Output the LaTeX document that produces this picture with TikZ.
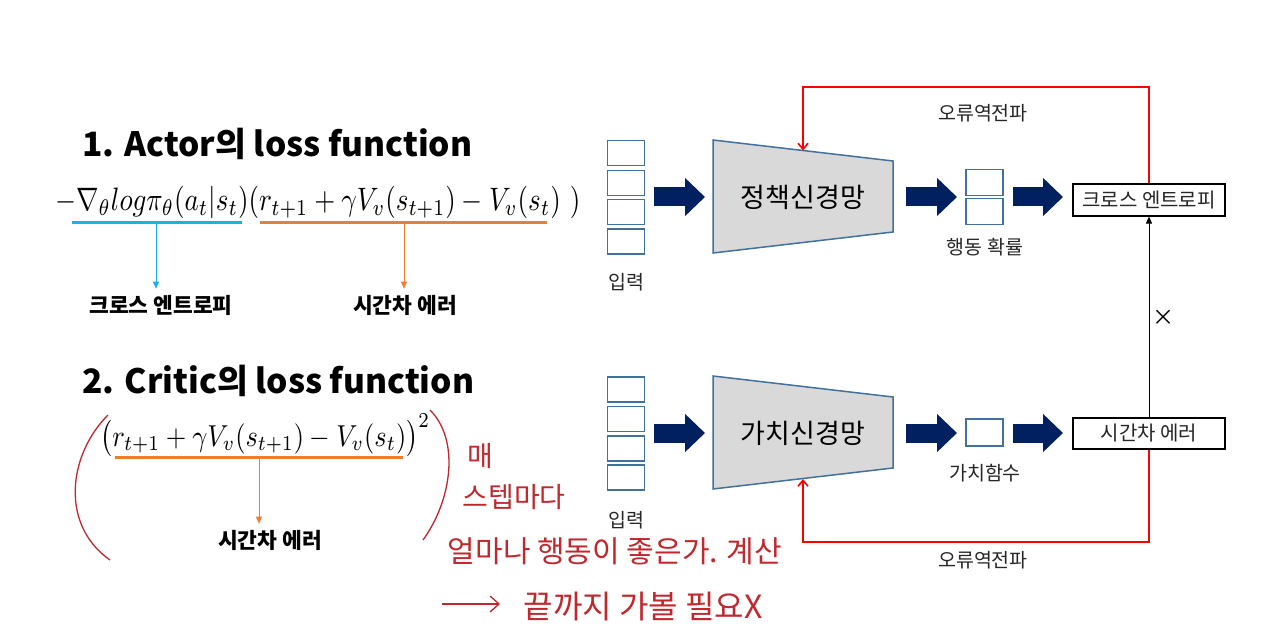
\documentclass[tikz,border=0pt]{standalone}
\usepackage{fontspec}
\newfontfamily\kr{Noto Sans CJK KR}
\usetikzlibrary{arrows.meta}
\definecolor{navy}{HTML}{002060}
\definecolor{boxblue}{HTML}{41719C}
\definecolor{trapfill}{HTML}{D9D9D9}
\definecolor{lblue}{HTML}{1AB0E8}
\definecolor{orng}{HTML}{ED7D31}
\definecolor{hred}{HTML}{C0282D}
\definecolor{bred}{HTML}{FF0000}
\definecolor{txt}{HTML}{262626}
\tikzset{
  inbox/.style={draw=boxblue, line width=1.5pt, fill=white, minimum width=37pt, minimum height=25pt, inner sep=0pt},
  blockarr/.style={draw=navy, line width=19pt, -{Triangle[length=20pt,width=37pt]}},
  trap/.style={draw=boxblue, line width=1.5pt, fill=trapfill},
  netlabel/.style={font=\kr\fontsize{27}{30}\selectfont, text=black, inner sep=0pt},
  lab/.style={font=\kr\fontsize{19.5}{22}\selectfont, text=txt, inner sep=1pt},
  outbox/.style={draw=black, line width=1.2pt, fill=white, minimum width=152pt, minimum height=31pt, inner sep=0pt, font=\kr\fontsize{20}{22}\selectfont, text=txt},
  redfb/.style={draw=bred, line width=2.4pt, -{Straight Barb[length=6pt,width=10pt,line width=1.6pt]}},
  klab/.style={font=\kr\bfseries\fontsize{21.5}{24}\selectfont, text=black, inner sep=0pt},
  uline/.style={line width=3pt},
  thinarr/.style={line width=0.9pt, -{Triangle[length=7pt,width=6pt]}},
  hand/.style={font=\kr\fontsize{28}{30}\selectfont, text=hred, inner sep=0pt},
  handline/.style={draw=hred, line width=1.3pt},
  titletext/.style={anchor=base west, inner sep=0pt, text depth=0pt},
}
\begin{document}
\begin{tikzpicture}[x=1pt,y=-1pt]
\useasboundingbox[fill=white] (0,0) rectangle (1280,639);

% ---------- left: titles and formulas ----------
\node[titletext] (title1) at (82,157)
  {\resizebox{390pt}{!}{\kr\bfseries\fontsize{34}{40}\selectfont 1. Actor의 loss function}};
\node[anchor=base west, inner sep=0pt] (f1) at (55,211)
  {\scalebox{1}[1.2]{\resizebox{525pt}{!}{$-\nabla_\theta log\pi_\theta(a_t|s_t)(r_{t+1}+\gamma V_v(s_{t+1})-V_v(s_t)\ )$}}};
\coordinate (u1a) at (72,223);  \coordinate (u1b) at (242,223); \coordinate (u1m) at (156,223);
\coordinate (u2a) at (260,223); \coordinate (u2b) at (547,223); \coordinate (u2m) at (404,223);
\draw[uline, draw=lblue] (u1a) -- (u1b);
\draw[uline, draw=orng] (u2a) -- (u2b);
\node[klab] (k1) at (161,305) {크로스 엔트로피};
\node[klab] (k2) at (405,305) {시간차 에러};
\draw[thinarr, draw=lblue, fill=lblue, shorten >=6pt] (u1m) -- (u1m |- k1.north);
\draw[thinarr, draw=orng, fill=orng, shorten >=6pt] (u2m) -- (u2m |- k2.north);

\node[titletext] (title2) at (82,393)
  {\resizebox{392pt}{!}{\kr\bfseries\fontsize{34}{40}\selectfont 2. Critic의 loss function}};
\node[anchor=base west, inner sep=0pt] (f2) at (100,446)
  {\scalebox{1}[1.15]{\resizebox{330pt}{!}{$\bigl(r_{t+1}+\gamma V_v(s_{t+1})-V_v(s_t)\bigr)^2$}}};
\coordinate (u3a) at (115,457); \coordinate (u3b) at (403,457); \coordinate (u3m) at (259,457);
\draw[uline, draw=orng] (u3a) -- (u3b);
\node[klab] (k3) at (270,540) {시간차 에러};
\draw[thinarr, draw=orng, fill=orng, shorten >=6pt] (u3m) -- (u3m |- k3.north);

% ---------- handwriting ----------
\draw[handline] (108,415) .. controls (68,455) and (60,525) .. (110,560);
\draw[handline] (430,410) .. controls (460,440) and (452,500) .. (423,540);
\node[hand] (h1) at (480,456) {매};
\node[hand] (h2) at (514,497) {스텝마다};
\node[hand, font=\kr\fontsize{30}{32}\selectfont] (h3) at (615,551) {얼마나 행동이 좋은가. 계산};
\node[hand, font=\kr\fontsize{32}{34}\selectfont] (h4) at (643,607) {끝까지 가볼 필요X};
\coordinate (ha) at (442,604);
\coordinate (hb) at (500,604);
\draw[handline, -{Straight Barb[length=9pt,width=16pt]}] (ha) -- (hb);

% ---------- top network ----------
\node[inbox] (i1) at (626,153) {};
\node[inbox] (i2) at (626,183) {};
\node[inbox] (i3) at (626,212) {};
\node[inbox] (i4) at (626,241.5) {};
\node[lab] (inl1) at (626,282) {입력};
\coordinate (pA) at (713,140); \coordinate (pB) at (893,161);
\coordinate (pC) at (893,232); \coordinate (pD) at (713,253);
\draw[trap] (pA) -- (pB) -- (pC) -- (pD) -- cycle;
\node[netlabel] (pnet) at (803,197) {정책신경망};
\node[inbox, minimum height=26pt] (p1) at (984.5,182.5) {};
\node[inbox, minimum height=26pt] (p2) at (984.5,211.5) {};
\node[lab] (pl) at (985,247) {행동 확률};
\node[outbox, minimum height=32pt] (ce) at (1149,200) {크로스 엔트로피};
\coordinate (a1s) at (654,197);  \coordinate (a1e) at (705,197);
\coordinate (a2s) at (906,197);  \coordinate (a2e) at (957,197);
\coordinate (a3s) at (1013,197); \coordinate (a3e) at (1063,197);
\draw[blockarr] (a1s) -- (a1e);
\draw[blockarr] (a2s) -- (a2e);
\draw[blockarr] (a3s) -- (a3e);
\coordinate (rt) at (803,87); \coordinate (rtip) at (803,150.5);
\draw[redfb] (ce.north) |- (rt) -- (rtip);
\node[lab] (bp1) at (983,113) {오류역전파};

% ---------- bottom network ----------
\node[inbox] (j1) at (626,389.5) {};
\node[inbox] (j2) at (626,419) {};
\node[inbox] (j3) at (626,448.5) {};
\node[inbox] (j4) at (626,477.5) {};
\node[lab] (inl2) at (626,520) {입력};
\coordinate (vA) at (713,376); \coordinate (vB) at (893,397);
\coordinate (vC) at (893,468); \coordinate (vD) at (713,489);
\draw[trap] (vA) -- (vB) -- (vC) -- (vD) -- cycle;
\node[netlabel] (vnet) at (803,433) {가치신경망};
\node[inbox, minimum height=27pt] (v1) at (984.5,432.5) {};
\node[lab] (vl) at (985,473) {가치함수};
\node[outbox] (td) at (1149,433.5) {시간차 에러};
\coordinate (b1s) at (654,433);  \coordinate (b1e) at (705,433);
\coordinate (b2s) at (906,433);  \coordinate (b2e) at (957,433);
\coordinate (b3s) at (1013,433); \coordinate (b3e) at (1063,433);
\draw[blockarr] (b1s) -- (b1e);
\draw[blockarr] (b2s) -- (b2e);
\draw[blockarr] (b3s) -- (b3e);
\coordinate (rb) at (803,542); \coordinate (rbtip) at (803,479);
\draw[redfb] (td.south) |- (rb) -- (rbtip);
\node[lab] (bp2) at (983,560) {오류역전파};

% ---------- link between ----------
\draw[line width=1pt, -{Triangle[length=7pt,width=6pt]}] (td.north) -- (ce.south);
\node[font=\kr\fontsize{22}{24}\selectfont, inner sep=0pt] (xm) at (1163,318) {×};
\end{tikzpicture}
\end{document}
